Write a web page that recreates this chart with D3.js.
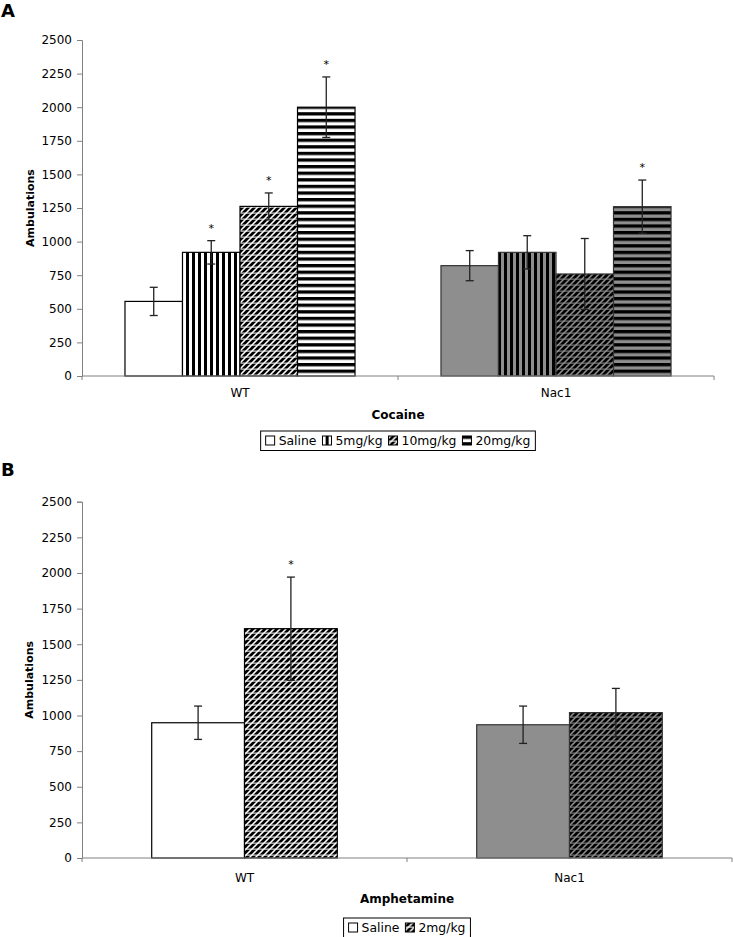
<!DOCTYPE html>
<html>
<head>
<meta charset="utf-8">
<script src="https://cdn.jsdelivr.net/npm/d3@7"></script>
<style>
  html, body { margin: 0; padding: 0; background: #fff; }
  svg { display: block; }
  text { font-family: "DejaVu Sans", Verdana, sans-serif; }
</style>
</head>
<body>
<svg id="chart" width="733" height="937"></svg>
<script>
// ---------- DATA ----------
const yTicks = [0, 250, 500, 750, 1000, 1250, 1500, 1750, 2000, 2250, 2500];

const cocaineGroups = ["WT", "Nac1"];
const cocaineSeries = ["Saline", "5mg/kg", "10mg/kg", "20mg/kg"];
const cocaineMeans  = [[555, 920, 1262, 2000], [821, 920, 759, 1260]];
const cocaineErrors = [[105, 87, 100, 225], [112, 124, 264, 198]];
const cocaineSig    = [[false, true, true, true], [false, false, false, true]];

const amphGroups = ["WT", "Nac1"];
const amphSeries = ["Saline", "2mg/kg"];
const amphMeans  = [[949, 1609], [935, 1020]];
const amphErrors = [[117, 362], [131, 170]];
const amphSig    = [[false, true], [false, false]];

// ---------- SETUP ----------
const svg = d3.select("#chart");
const defs = svg.append("defs");
const GRAY = "#8e8e8e";

function makePattern(id, bg, kind) {
  const p = defs.append("pattern").attr("id", id).attr("patternUnits", "userSpaceOnUse");
  if (kind === "vert") {
    p.attr("width", 6).attr("height", 6);
    p.append("rect").attr("width", 6).attr("height", 6).attr("fill", bg);
    p.append("rect").attr("x", 0).attr("width", 3).attr("height", 6).attr("fill", "#000");
  } else if (kind === "horz") {
    p.attr("width", 6).attr("height", 6.6);
    p.append("rect").attr("width", 6).attr("height", 6.6).attr("fill", bg);
    p.append("rect").attr("y", 0).attr("width", 6).attr("height", 3.3).attr("fill", "#000");
  } else if (kind === "diag") {
    p.attr("width", 6).attr("height", 6);
    p.append("rect").attr("width", 6).attr("height", 6).attr("fill", bg);
    p.append("path").attr("d", "M0,6 L6,0 M-1,1 L1,-1 M5,7 L7,5")
      .attr("stroke", "#000").attr("stroke-width", 2.7);
    p.append("rect").attr("x", 0).attr("y", 2.6).attr("width", 6).attr("height", 1).attr("fill", bg);
  }
  return `url(#${id})`;
}

const fills = {
  white: { none: "#fff", vert: makePattern("vW", "#fff", "vert"), diag: makePattern("dW", "#fff", "diag"), horz: makePattern("hW", "#fff", "horz") },
  gray:  { none: GRAY,   vert: makePattern("vG", GRAY, "vert"),   diag: makePattern("dG", GRAY, "diag"),   horz: makePattern("hG", GRAY, "horz") }
};

function drawPanel(cfg) {
  const g = svg.append("g");
  const y = d3.scaleLinear().domain([0, 2500]).range([cfg.y0, cfg.yTop]);
  const x = d3.scaleBand().domain(cfg.groups).range([cfg.x0, cfg.x1]).padding(0);
  const bw = x.bandwidth();
  const inner = d3.scaleBand().domain(cfg.series).range([bw * cfg.gapFrac, bw * (1 - cfg.gapFrac)]).padding(0);

  // panel letter
  g.append("text").attr("x", 1).attr("y", cfg.letterY).attr("font-family", "Liberation Sans, Arial, sans-serif")
    .attr("font-weight", "bold").attr("font-size", 18).text(cfg.letter);

  // y axis
  const ya = g.append("g").attr("transform", `translate(${cfg.x0},0)`)
    .call(d3.axisLeft(y).tickValues(yTicks).tickSize(5).tickPadding(5).tickFormat(d3.format("d")));
  ya.select(".domain").attr("stroke", "#808080");
  ya.selectAll(".tick line").attr("stroke", "#808080");
  ya.selectAll(".tick text").attr("font-size", 12).attr("fill", "#000")
    .attr("font-family", "DejaVu Sans, Verdana, sans-serif");

  // y label
  g.append("text").attr("transform", `translate(${cfg.yLabelX},${(cfg.y0 + cfg.yTop) / 2}) rotate(-90)`)
    .attr("text-anchor", "middle").attr("font-weight", "bold").attr("font-size", 11).text("Ambulations");

  // bars
  cfg.groups.forEach((grp, gi) => {
    const palette = gi === 0 ? fills.white : fills.gray;
    const stroke = gi === 0 ? "#000" : "#333";
    cfg.series.forEach((s, si) => {
      const v = cfg.means[gi][si];
      const bx = x(grp) + inner(s);
      g.append("rect").attr("x", bx).attr("y", y(v)).attr("width", inner.bandwidth())
        .attr("height", y(0) - y(v)).attr("fill", palette[cfg.kinds[si]])
        .attr("stroke", stroke).attr("stroke-width", 1.2);
    });
  });

  // error bars + significance
  cfg.groups.forEach((grp, gi) => {
    cfg.series.forEach((s, si) => {
      const v = cfg.means[gi][si], e = cfg.errors[gi][si];
      const cx = x(grp) + inner(s) + inner.bandwidth() / 2;
      const eb = g.append("g").attr("stroke", "#222").attr("stroke-width", 1.3);
      eb.append("line").attr("x1", cx).attr("x2", cx).attr("y1", y(v + e)).attr("y2", y(v - e));
      eb.append("line").attr("x1", cx - 4).attr("x2", cx + 4).attr("y1", y(v + e)).attr("y2", y(v + e));
      eb.append("line").attr("x1", cx - 4).attr("x2", cx + 4).attr("y1", y(v - e)).attr("y2", y(v - e));
      if (cfg.sig[gi][si]) {
        g.append("text").attr("x", cx).attr("y", y(v + e) - 9).attr("text-anchor", "middle")
          .attr("font-size", 11).attr("fill", "#000").text("*");
      }
    });
  });

  // x axis
  g.append("line").attr("x1", cfg.x0).attr("x2", cfg.x1).attr("y1", cfg.y0).attr("y2", cfg.y0)
    .attr("stroke", "#808080").attr("stroke-width", 1);
  [cfg.x0, x(cfg.groups[1]), cfg.x1].forEach(tx => {
    g.append("line").attr("x1", tx).attr("x2", tx).attr("y1", cfg.y0).attr("y2", cfg.y0 + 4)
      .attr("stroke", "#808080");
  });
  cfg.groups.forEach(grp => {
    g.append("text").attr("x", x(grp) + bw / 2).attr("y", cfg.catY).attr("text-anchor", "middle")
      .attr("font-size", 12).text(grp);
  });
  const mid = (cfg.x0 + cfg.x1) / 2;
  g.append("text").attr("x", mid).attr("y", cfg.titleY).attr("text-anchor", "middle")
    .attr("font-weight", "bold").attr("font-size", 12).text(cfg.title);

  // legend
  const lg = g.append("g");
  const box = lg.append("rect").attr("fill", "#fff").attr("stroke", "#000").attr("stroke-width", 1);
  let cursor = 0;
  const items = lg.append("g");
  cfg.series.forEach((s, si) => {
    items.append("rect").attr("x", cursor).attr("y", cfg.legendY - 9).attr("width", 9).attr("height", 9)
      .attr("fill", fills.white[cfg.kinds[si]]).attr("stroke", "#000").attr("stroke-width", 1);
    cursor += 13;
    const t = items.append("text").attr("x", cursor).attr("y", cfg.legendY).attr("font-size", 12.4).text(s);
    cursor += t.node().getComputedTextLength() + 6;
  });
  const totalW = cursor - 6;
  const left = mid - totalW / 2;
  items.attr("transform", `translate(${left},0)`);
  box.attr("x", left - 5).attr("y", cfg.legendY - 14).attr("width", totalW + 10).attr("height", 19.5);
}

drawPanel({
  letter: "A", letterY: 17,
  groups: cocaineGroups, series: cocaineSeries, means: cocaineMeans, errors: cocaineErrors, sig: cocaineSig,
  kinds: ["none", "vert", "diag", "horz"],
  x0: 82, x1: 714, y0: 376, yTop: 40, gapFrac: 0.136,
  yLabelX: 34, catY: 397, titleY: 419, title: "Cocaine", legendY: 445
});

drawPanel({
  letter: "B", letterY: 476,
  groups: amphGroups, series: amphSeries, means: amphMeans, errors: amphErrors, sig: amphSig,
  kinds: ["none", "diag"],
  x0: 82, x1: 732, y0: 858, yTop: 501.7, gapFrac: 0.2145,
  yLabelX: 33, catY: 882, titleY: 903, title: "Amphetamine", legendY: 932
});
</script>
</body>
</html>
